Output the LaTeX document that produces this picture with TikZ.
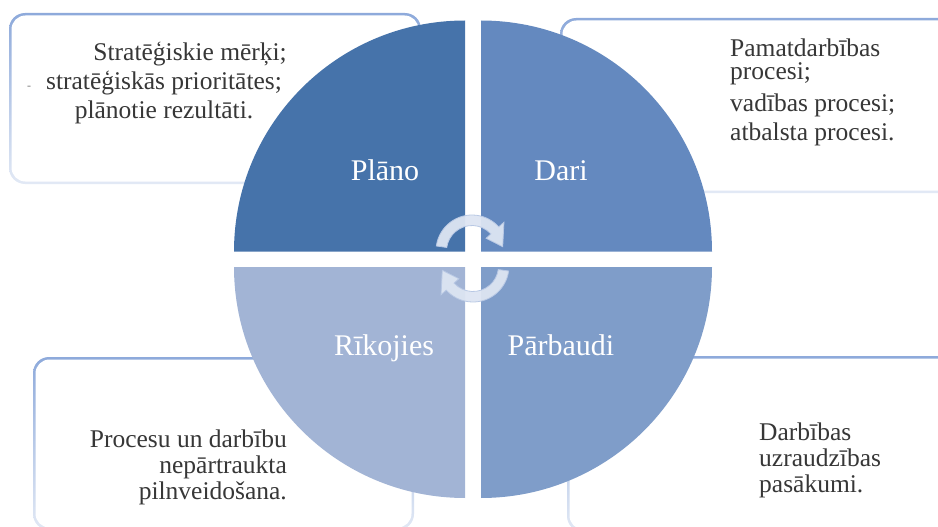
\documentclass[tikz,border=0pt]{standalone}
\usepackage{fontspec}
\setmainfont{Liberation Serif}
\usepackage{tikz}

\definecolor{plancol}{RGB}{70,115,170}
\definecolor{docol}{RGB}{100,137,191}
\definecolor{checkcol}{RGB}{127,157,201}
\definecolor{actcol}{RGB}{162,180,213}
\definecolor{edgetop}{RGB}{142,170,219}
\definecolor{edgebot}{RGB}{226,233,245}
\definecolor{textcol}{RGB}{55,55,55}
\definecolor{cyclecol}{RGB}{221,229,242}
\definecolor{cycleedge}{RGB}{184,200,228}

\tikzset{
  boxtext/.style={text=textcol, font=\fontsize{25.5}{28}\selectfont},
  quadlabel/.style={text=white, font=\fontsize{30}{34}\selectfont},
  cyclearrow/.style={fill=cyclecol, draw=cycleedge, line width=0.8pt, fill opacity=0.95}
}

\begin{document}
\begin{tikzpicture}[x=1pt,y=1pt]
        \tikzstyle{every node}+=[inner sep=0pt]
        \useasboundingbox (0,0) rectangle (938,-527);
        \clip (0,0) rectangle (938,-527);
        % text boxes behind the circle
        \shade [top color=edgetop, bottom color=edgebot, rounded corners=16] (9,-13) rectangle (421,-184);
        \fill [white, rounded corners=14] (11.5,-15.5) rectangle (418.5,-181.5);
        \shade [top color=edgetop, bottom color=edgebot, rounded corners=16] (560,-18) rectangle (960,-193);
        \fill [white, rounded corners=14] (562.5,-20.5) rectangle (957.5,-190.5);
        \shade [top color=edgetop, bottom color=edgebot, rounded corners=16] (33,-357) rectangle (414,-530);
        \fill [white, rounded corners=14] (35.5,-359.5) rectangle (411.5,-527.5);
        \shade [top color=edgetop, bottom color=edgebot, rounded corners=16] (567,-356) rectangle (960,-532);
        \fill [white, rounded corners=14] (569.5,-358.5) rectangle (957.5,-529.5);
        % four quadrants
        \fill [plancol] (465,-251.5) -- (234,-251.5) arc (180:90:231) -- cycle;
        \fill [docol] (481,-251.5) -- (481,-20.5) arc (90:0:231) -- cycle;
        \fill [checkcol] (481,-267) -- (712,-267) arc (0:-90:231) -- cycle;
        \fill [actcol] (465,-267) -- (465,-498) arc (270:180:231) -- cycle;
        \node [quadlabel, anchor=base] (plan) at (385,-180) {Plāno};
        \node [quadlabel, anchor=base] (do) at (561,-180) {Dari};
        \node [quadlabel, anchor=base] (act) at (384,-355) {Rīkojies};
        \node [quadlabel, anchor=base] (check) at (561,-355) {Pārbaudi};
        % cycle arrows in the middle
        \begin{scope}[shift={(472,-251)}]
          \path [cyclearrow] (172:36) arc (172:42:36) -- (42:43) -- (8:31) -- (42:19) -- (42:25.5) arc (42:172:25.5) -- cycle;
        \end{scope}
        \begin{scope}[shift={(473,-266)}]
          \path [cyclearrow] (-8:36) arc (-8:-138:36) -- (-138:43) -- (-172:31) -- (-138:19) -- (-138:25.5) arc (-138:-8:25.5) -- cycle;
        \end{scope}
        % box texts
        \node [boxtext, anchor=base east] (plantxta) at (287,-61) {Stratēģiskie mērķi;};
        \node [boxtext, anchor=base] (plantxtb) at (164,-90) {stratēģiskās prioritātes;};
        \node [boxtext, anchor=base] (plantxtc) at (164,-118) {plānotie rezultāti.};
        \node [text=gray, font=\fontsize{12}{13}\selectfont, anchor=base] (plandash) at (29,-90) {-};
        \node [boxtext, anchor=base west] (dotxta) at (730,-57) {Pamatdarbības};
        \node [boxtext, anchor=base west] (dotxtb) at (730,-80) {procesi;};
        \node [boxtext, anchor=base west] (dotxtc) at (730,-112) {vadības procesi;};
        \node [boxtext, anchor=base west] (dotxtd) at (730,-140) {atbalsta procesi.};
        \node [boxtext, anchor=base east] (acttxta) at (287,-447) {Procesu un darbību};
        \node [boxtext, anchor=base east] (acttxtb) at (287,-473) {nepārtraukta};
        \node [boxtext, anchor=base east] (acttxtc) at (287,-499) {pilnveidošana.};
        \node [boxtext, anchor=base west] (checktxta) at (759,-440) {Darbības};
        \node [boxtext, anchor=base west] (checktxtb) at (759,-466) {uzraudzības};
        \node [boxtext, anchor=base west] (checktxtc) at (759,-492) {pasākumi.};
\end{tikzpicture}
\end{document}
